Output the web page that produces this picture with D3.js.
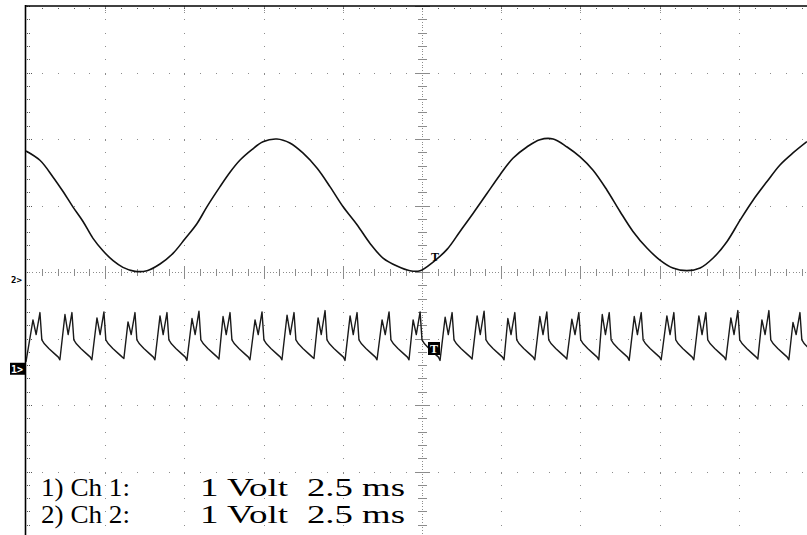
<!DOCTYPE html>
<html>
<head>
<meta charset="utf-8">
<script src="https://cdn.jsdelivr.net/npm/d3@7/dist/d3.min.js"></script>
<style>
  html, body { margin: 0; padding: 0; background: #fff; }
  svg { display: block; }
</style>
</head>
<body>
<svg id="chart" width="807" height="535"></svg>
<script>
// ---------------- DATA ----------------
// Time base 2.5 ms/div, 10 divisions; 1 V/div, 8 divisions
const xMajorTicks = [0, 2.5, 5, 7.5, 10, 12.5, 15, 17.5, 20, 22.5, 25];   // ms
const yMajorTicks = [-4, -3, -2, -1, 0, 1, 2, 3, 4];                       // divisions
const legendLines = [["1) Ch 1:", "1 Volt", "2.5 ms"], ["2) Ch 2:", "1 Volt", "2.5 ms"]];

// channel 2: sine-like trace (time ms, volts above its ground marker)
const ch2T = [0.00,0.44,0.85,1.17,1.48,1.80,2.11,2.43,2.75,3.06,3.44,3.82,4.23,4.64,5.02,5.40,5.71,
              6.12,6.44,6.75,7.13,7.48,7.92,8.33,8.74,9.19,9.60,10.01,10.45,10.86,11.27,11.71,12.12,
              12.44,12.85,13.29,13.70,14.11,14.55,14.96,15.37,15.81,16.22,16.64,17.08,17.49,17.90,
              18.34,18.75,19.16,19.60,20.01,20.42,20.86,21.28,21.69,22.13,22.54,22.95,23.39,23.80,24.21,24.65];
const ch2V = [1.94,1.80,1.55,1.33,1.10,0.88,0.63,0.44,0.29,0.19,0.13,0.14,0.24,0.40,0.62,0.85,1.10,
              1.40,1.62,1.80,1.96,2.08,2.12,2.06,1.91,1.68,1.40,1.10,0.83,0.55,0.33,0.21,0.14,
              0.14,0.27,0.46,0.73,1.00,1.30,1.58,1.83,2.00,2.11,2.12,2.00,1.85,1.65,
              1.35,1.03,0.73,0.48,0.30,0.18,0.14,0.18,0.33,0.58,0.90,1.20,1.48,1.73,1.91,2.08];

// channel 1: pulse train. First-peak time of every pulse (ms) and levels (V above its marker)
const ch1PeakT = [0.22,1.23,2.24,3.22,4.23,5.24,6.22,7.23,8.24,9.22,10.23,11.24,12.22,13.23,14.24,
                  15.21,16.22,17.23,18.19,19.20,20.23,21.24,22.25,23.23,24.21];
const ch1Peak1 = [0.72,0.80,0.75,0.69,0.78,0.74,0.77,0.72,0.79,0.75,0.78,0.72,0.72,0.76,0.78,
                  0.74,0.77,0.73,0.80,0.77,0.78,0.78,0.75,0.72,0.68];
const ch1Peak2 = [0.83,0.83,0.84,0.83,0.83,0.85,0.83,0.84,0.83,0.86,0.83,0.84,0.84,0.83,0.85,
                  0.83,0.84,0.83,0.83,0.83,0.83,0.83,0.86,0.86,0.83];
const ch1Floor = [0.09,0.12,0.12,0.14,0.12,0.11,0.13,0.12,0.12,0.14,0.11,0.12,0.12,0.11,0.13,
                  0.12,0.12,0.13,0.12,0.11,0.12,0.12,0.12,0.13,0.12];
// shape of one pulse: offsets (ms from first peak) & levels (V)
const ch1DipOffset = 0.10,  ch1DipV = 0.50;
const ch1Peak2Offset = 0.22;
const ch1DecayOffset = [0.28, 0.36, 0.50, 0.66, 0.80];
const ch1DecayV      = [0.42, 0.36, 0.29, 0.22, 0.16];
const ch1FloorOffset = 0.85;

// ---------------- LAYOUT ----------------
const svg = d3.select("#chart");
const W = 807, H = 535;
const x = d3.scaleLinear().domain([0, 25]).range([26, 818]);
const y = d3.scaleLinear().domain([-4, 4]).range([538, 6]);
const ch2Zero = -0.12, ch1Zero = -1.44;   // ground-marker positions in divisions
const grid = svg.append("g").attr("shape-rendering", "crispEdges");
const dotCol = "#8c8c8c";

const xMinor = d3.range(0, 25.001, 0.5);
const yMinor = d3.range(-4, 4.001, 0.2).map(v => +v.toFixed(2));
const cx = x(12.5), cy = y(0);

function dot(px, py, w, h, col) {
  grid.append("rect").attr("x", Math.round(px)).attr("y", Math.round(py))
      .attr("width", w).attr("height", h).attr("fill", col || dotCol);
}

// vertical major lines (dots every minor y)
xMajorTicks.forEach(t => {
  if (t === 0 || t === 12.5) return;
  const px = x(t);
  if (px > W) return;
  yMinor.forEach(v => {
    const isMaj = Math.abs(v - Math.round(v)) < 1e-6;
    dot(px, y(v), 1, isMaj ? 2 : 1);
  });
  dot(px, 8, 1, 1); dot(px, 10, 1, 1); dot(px, 12, 1, 1);
});
// horizontal major lines (dots every minor x)
yMajorTicks.forEach(v => {
  if (v === 0 || v === 4) return;
  xMinor.forEach(t => {
    const px = x(t);
    if (px > W || t === 0) return;
    dot(px, y(v), 1, 1);
  });
  dot(27, y(v), 1, 1, "#555"); dot(29, y(v), 1, 1, "#555"); dot(31, y(v), 1, 1, "#555");
});
// left border ticks
yMinor.forEach(v => { dot(27, y(v), 1, 1, "#555"); dot(29, y(v), 1, 1, "#555"); });
// top border ticks
xMinor.forEach(t => { if (t > 0 && x(t) < W) { dot(x(t), 8, 1, 1, "#555"); } });

// centre axes: dense dots + ticks
d3.range(0, 25.001, 0.1).forEach(t => { const px = x(t); if (px < W && t > 0) dot(px, cy, 1, 1); });
d3.range(-4, 4.001, 0.04).forEach(v => dot(cx, y(v), 1, 1));
xMinor.forEach(t => {
  const px = x(t); if (px > W || t === 0) return;
  const maj = Math.abs(t / 2.5 - Math.round(t / 2.5)) < 1e-6;
  const h = maj ? 6 : 3;
  dot(px, cy - h, 1, 2 * h + 1);
});
yMinor.forEach(v => {
  const maj = Math.abs(v - Math.round(v)) < 1e-6;
  const w = maj ? 7 : 4;
  dot(cx - w, y(v), 2 * w + 1, 1);
});

// frame: left and top border
svg.append("line").attr("x1", 25.5).attr("x2", 25.5).attr("y1", 5).attr("y2", H)
   .attr("stroke", "#000").attr("stroke-width", 1.6);
svg.append("line").attr("x1", 25).attr("x2", W).attr("y1", 6).attr("y2", 6)
   .attr("stroke", "#000").attr("stroke-width", 1.6);

// clip for traces
svg.append("clipPath").attr("id", "plot").append("rect")
   .attr("x", 26).attr("y", 7).attr("width", W - 26).attr("height", H - 7);

// channel 2 trace
const ch2Data = ch2T.map((t, i) => [t, ch2V[i]]);
const line2 = d3.line().x(d => x(d[0])).y(d => y(ch2Zero + d[1])).curve(d3.curveCatmullRom);
svg.append("path").datum(ch2Data).attr("d", line2).attr("clip-path", "url(#plot)")
   .attr("fill", "none").attr("stroke", "#111").attr("stroke-width", 1.6);

// channel 1 trace
const ch1Data = [[0, ch1Floor[0]]];
ch1PeakT.forEach((tp, i) => {
  ch1Data.push([tp, ch1Peak1[i]]);
  ch1Data.push([tp + ch1DipOffset, ch1DipV]);
  ch1Data.push([tp + ch1Peak2Offset, ch1Peak2[i]]);
  ch1DecayOffset.forEach((o, k) => ch1Data.push([tp + o, ch1DecayV[k]]));
  const fl = i + 1 < ch1Floor.length ? ch1Floor[i + 1] : ch1Floor[i];
  ch1Data.push([tp + ch1FloorOffset, fl]);
});
const line1 = d3.line().x(d => x(d[0])).y(d => y(ch1Zero + d[1]));
svg.append("path").datum(ch1Data).attr("d", line1).attr("clip-path", "url(#plot)")
   .attr("fill", "none").attr("stroke", "#1a1a1a").attr("stroke-width", 1.4)
   .attr("stroke-linejoin", "round");

// markers
svg.append("text").attr("x", 11).attr("y", y(ch2Zero) + 3).text("2>")
   .attr("font-family", "DejaVu Sans Mono, monospace").attr("font-size", 9).attr("font-weight", "bold");
svg.append("rect").attr("x", 10).attr("y", y(ch1Zero) - 5).attr("width", 15).attr("height", 12).attr("fill", "#000");
svg.append("text").attr("x", 11).attr("y", y(ch1Zero) + 5).text("1>").attr("fill", "#fff")
   .attr("font-family", "DejaVu Sans Mono, monospace").attr("font-size", 10).attr("font-weight", "bold");
svg.append("text").attr("x", 431).attr("y", 261).text("T")
   .attr("font-family", "Liberation Serif, serif").attr("font-size", 12).attr("font-weight", "bold");
svg.append("rect").attr("x", 428).attr("y", 342).attr("width", 12).attr("height", 13).attr("fill", "#000");
svg.append("text").attr("x", 430).attr("y", 353).text("T").attr("fill", "#fff")
   .attr("font-family", "Liberation Serif, serif").attr("font-size", 12).attr("font-weight", "bold");

// legend text (one text element, one tspan per piece)
const legendY = [496, 523];
const colX = [41, 200, 307];
const colLen = [89, 88, 98];
const legend = svg.append("text")
   .attr("font-family", "Liberation Serif, Times New Roman, serif").attr("font-size", 25).attr("fill", "#000");
legendLines.forEach((row, r) => {
  row.forEach((s, c) => {
    legend.append("tspan").attr("x", colX[c]).attr("y", legendY[r])
      .attr("textLength", colLen[c]).attr("lengthAdjust", "spacingAndGlyphs").text(s);
  });
});
</script>
</body>
</html>
